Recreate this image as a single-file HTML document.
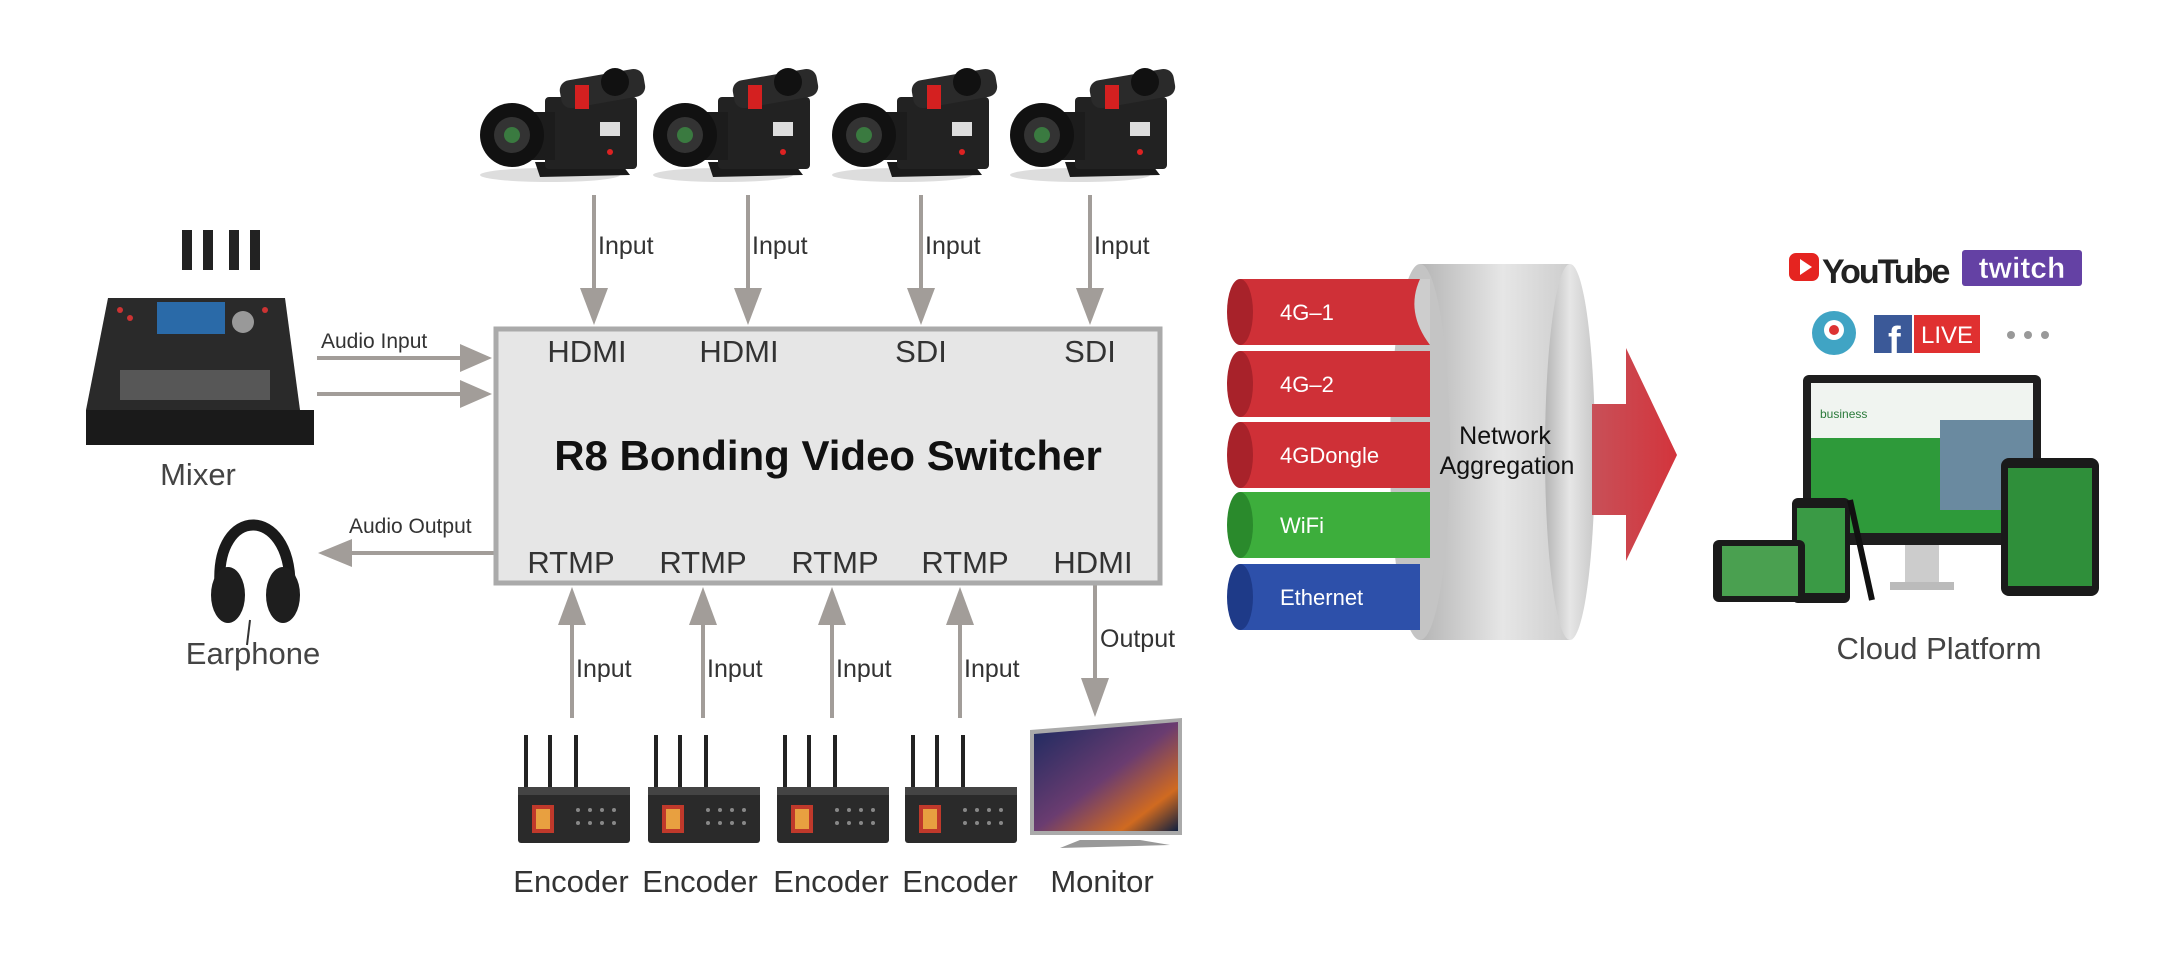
<!DOCTYPE html>
<html><head><meta charset="utf-8"><style>
html,body{margin:0;padding:0;background:#fff;}
svg{display:block;font-family:"Liberation Sans",Arial,sans-serif;}
</style></head><body>
<svg width="2171" height="957" viewBox="0 0 2171 957" xmlns="http://www.w3.org/2000/svg">
<defs>
 <g id="cam">
  <ellipse cx="70" cy="108" rx="70" ry="7" fill="#ddd"/>
  <path d="M55 95 L140 95 L150 108 L60 110 Z" fill="#1a1a1a"/>
  <rect x="65" y="30" width="92" height="72" rx="4" fill="#222"/>
  <rect x="80" y="8" width="85" height="28" rx="10" fill="#2a2a2a" transform="rotate(-10 120 22)"/>
  <rect x="95" y="18" width="14" height="24" fill="#d42020"/>
  <circle cx="135" cy="15" r="14" fill="#111"/>
  <rect x="120" y="55" width="20" height="14" fill="#ddd"/>
  <rect x="30" y="45" width="45" height="48" fill="#1c1c1c"/>
  <circle cx="32" cy="68" r="32" fill="#111"/>
  <circle cx="32" cy="68" r="18" fill="#333"/>
  <circle cx="32" cy="68" r="8" fill="#3a7a40"/>
  <circle cx="130" cy="85" r="3" fill="#d22"/>
 </g>
 <g id="enc">
  <rect x="6" y="0" width="4" height="55" fill="#222"/>
  <rect x="30" y="0" width="4" height="55" fill="#222"/>
  <rect x="56" y="0" width="4" height="55" fill="#222"/>
  <rect x="0" y="52" width="112" height="56" rx="3" fill="#2a2a2a"/>
  <rect x="0" y="52" width="112" height="8" fill="#444"/>
  <rect x="14" y="70" width="22" height="28" fill="#c0392b"/>
  <rect x="18" y="74" width="14" height="20" fill="#e8a040"/>
  <circle cx="60" cy="75" r="2" fill="#888"/><circle cx="72" cy="75" r="2" fill="#888"/><circle cx="84" cy="75" r="2" fill="#888"/><circle cx="96" cy="75" r="2" fill="#888"/>
  <circle cx="60" cy="88" r="2" fill="#888"/><circle cx="72" cy="88" r="2" fill="#888"/><circle cx="84" cy="88" r="2" fill="#888"/><circle cx="96" cy="88" r="2" fill="#888"/>
 </g>
 <linearGradient id="gr" x1="0" x2="1"><stop offset="0" stop-color="#b5b5b5"/><stop offset="0.5" stop-color="#e6e6e6"/><stop offset="1" stop-color="#c8c8c8"/></linearGradient>
 <linearGradient id="ra" x1="0" x2="1"><stop offset="0" stop-color="#c85058"/><stop offset="1" stop-color="#d3343c"/></linearGradient>
 <linearGradient id="tv" x1="0" x2="1" y1="0" y2="1"><stop offset="0" stop-color="#1b2a60"/><stop offset="0.5" stop-color="#6a3c70"/><stop offset="0.8" stop-color="#d06a20"/><stop offset="1" stop-color="#102040"/></linearGradient>
</defs>

<!-- cameras -->
<use href="#cam" x="480" y="67"/>
<use href="#cam" x="653" y="67"/>
<use href="#cam" x="832" y="67"/>
<use href="#cam" x="1010" y="67"/>

<g fill="#a29d99" stroke="none">
 <!-- down arrows -->
 <rect x="592" y="195" width="4" height="100"/><path d="M580 288 L608 288 L594 325 Z"/>
 <rect x="746" y="195" width="4" height="100"/><path d="M734 288 L762 288 L748 325 Z"/>
 <rect x="919" y="195" width="4" height="100"/><path d="M907 288 L935 288 L921 325 Z"/>
 <rect x="1088" y="195" width="4" height="100"/><path d="M1076 288 L1104 288 L1090 325 Z"/>
 <!-- up arrows -->
 <rect x="570" y="618" width="4" height="100"/><path d="M558 625 L586 625 L572 587 Z"/>
 <rect x="701" y="618" width="4" height="100"/><path d="M689 625 L717 625 L703 587 Z"/>
 <rect x="830" y="618" width="4" height="100"/><path d="M818 625 L846 625 L832 587 Z"/>
 <rect x="958" y="618" width="4" height="100"/><path d="M946 625 L974 625 L960 587 Z"/>
 <!-- output -->
 <rect x="1093" y="585" width="4" height="95"/><path d="M1081 678 L1109 678 L1095 717 Z"/>
 <!-- audio in -->
 <rect x="317" y="356" width="150" height="4"/><path d="M460 344 L492 358 L460 372 Z"/>
 <rect x="317" y="392" width="150" height="4"/><path d="M460 380 L492 394 L460 408 Z"/>
 <!-- audio out -->
 <rect x="345" y="551" width="150" height="4"/><path d="M352 539 L318 553 L352 567 Z"/>
</g>

<g fill="#333" font-size="25">
 <text x="598" y="254">Input</text><text x="752" y="254">Input</text>
 <text x="925" y="254">Input</text><text x="1094" y="254">Input</text>
 <text x="576" y="677">Input</text><text x="707" y="677">Input</text>
 <text x="836" y="677">Input</text><text x="964" y="677">Input</text>
 <text x="1100" y="647">Output</text>
 <text x="321" y="348" font-size="21">Audio Input</text>
 <text x="349" y="533" font-size="21">Audio Output</text>
</g>

<!-- main box -->
<rect x="496" y="329" width="664" height="254" fill="#e6e6e6" stroke="#aaa" stroke-width="5"/>
<g fill="#333" font-size="31" text-anchor="middle">
 <text x="587" y="362">HDMI</text><text x="739" y="362">HDMI</text>
 <text x="921" y="362">SDI</text><text x="1090" y="362">SDI</text>
 <text x="571" y="573">RTMP</text><text x="703" y="573">RTMP</text><text x="835" y="573">RTMP</text><text x="965" y="573">RTMP</text><text x="1093" y="573">HDMI</text>
</g>
<text x="828" y="470" text-anchor="middle" font-size="42" font-weight="bold" fill="#111">R8 Bonding Video Switcher</text>

<!-- mixer -->
<g>
 <rect x="182" y="230" width="10" height="40" fill="#222"/><rect x="203" y="230" width="10" height="40" fill="#222"/>
 <rect x="229" y="230" width="10" height="40" fill="#222"/><rect x="250" y="230" width="10" height="40" fill="#222"/>
 <path d="M108 298 L285 298 L300 410 L86 410 Z" fill="#2a2a2a"/>
 <rect x="86" y="410" width="228" height="35" fill="#1a1a1a"/>
 <rect x="157" y="302" width="68" height="32" fill="#2a6aa8"/>
 <circle cx="243" cy="322" r="11" fill="#999"/>
 <g fill="#777"><rect x="120" y="370" width="150" height="30" opacity="0.6"/></g>
 <g fill="#c33"><circle cx="120" cy="310" r="3"/><circle cx="130" cy="318" r="3"/><circle cx="265" cy="310" r="3"/></g>
</g>
<text x="198" y="485" text-anchor="middle" font-size="31" fill="#444">Mixer</text>

<!-- earphone -->
<g>
 <path d="M220 585 C215 505 290 505 290 585" fill="none" stroke="#1a1a1a" stroke-width="11"/>
 <ellipse cx="228" cy="595" rx="17" ry="28" fill="#1e1e1e"/>
 <ellipse cx="283" cy="595" rx="17" ry="28" fill="#1e1e1e"/>
 <line x1="250" y1="620" x2="247" y2="645" stroke="#333" stroke-width="2"/>
</g>
<text x="253" y="664" text-anchor="middle" font-size="31" fill="#444">Earphone</text>

<!-- encoders -->
<use href="#enc" x="518" y="735"/>
<use href="#enc" x="648" y="735"/>
<use href="#enc" x="777" y="735"/>
<use href="#enc" x="905" y="735"/>
<!-- monitor -->
<path d="M1030 730 L1182 718 L1182 835 L1030 835 Z" fill="#aaa"/>
<path d="M1034 734 L1178 722 L1178 831 L1034 831 Z" fill="url(#tv)"/>
<path d="M1080 840 L1140 840 L1170 845 L1060 848 Z" fill="#999"/>
<g font-size="31" fill="#333" text-anchor="middle">
 <text x="571" y="892">Encoder</text><text x="700" y="892">Encoder</text><text x="831" y="892">Encoder</text><text x="960" y="892">Encoder</text><text x="1102" y="892">Monitor</text>
</g>

<!-- network cylinders -->
<path d="M1420 264 L1570 264 Q1600 452 1570 640 L1420 640 Z" fill="url(#gr)"/>
<ellipse cx="1420" cy="452" rx="30" ry="188" fill="#c4c4c4"/>
<ellipse cx="1570" cy="452" rx="25" ry="188" fill="url(#gr)"/>
<g>
 <rect x="1240" y="279" width="190" height="66" fill="#cf3037"/><ellipse cx="1240" cy="312" rx="13" ry="33" fill="#a8222a"/>
 <rect x="1240" y="351" width="190" height="66" fill="#cf3037"/><ellipse cx="1240" cy="384" rx="13" ry="33" fill="#a8222a"/>
 <rect x="1240" y="422" width="190" height="66" fill="#cf3037"/><ellipse cx="1240" cy="455" rx="13" ry="33" fill="#a8222a"/>
 <rect x="1240" y="492" width="190" height="66" fill="#3dae3c"/><ellipse cx="1240" cy="525" rx="13" ry="33" fill="#2a8a2c"/>
 <rect x="1240" y="564" width="180" height="66" fill="#2d50aa"/><ellipse cx="1240" cy="597" rx="13" ry="33" fill="#1e3a88"/>
 <path d="M1420 279 Q1405 312 1430 345 L1430 279 Z" fill="#cdcdcd"/>
</g>
<g fill="#fff" font-size="22">
 <text x="1280" y="320">4G–1</text><text x="1280" y="392">4G–2</text><text x="1280" y="463">4GDongle</text>
 <text x="1280" y="533">WiFi</text><text x="1280" y="605">Ethernet</text>
</g>
<g fill="#111" font-size="25" text-anchor="middle">
 <text x="1505" y="444">Network</text><text x="1507" y="474">Aggregation</text>
</g>
<!-- big red arrow -->
<path d="M1592 404 L1626 404 L1626 348 L1677 455 L1626 561 L1626 515 L1592 515 Z" fill="url(#ra)"/>

<!-- cloud logos -->
<rect x="1789" y="253" width="30" height="28" rx="7" fill="#e52420"/>
<path d="M1800 259 L1812 267 L1800 275 Z" fill="#fff"/>
<text x="1822" y="283" font-size="34" font-weight="bold" fill="#222" letter-spacing="-2" transform="scale(1 1)">YouTube</text>
<rect x="1962" y="250" width="120" height="36" rx="3" fill="#6441a4"/>
<text x="2022" y="278" text-anchor="middle" font-size="30" font-weight="bold" fill="#fff" stroke="#6441a4" stroke-width="0.5">twitch</text>
<circle cx="1834" cy="333" r="22" fill="#40a4c4"/><circle cx="1834" cy="330" r="10" fill="#fff"/><circle cx="1834" cy="330" r="5" fill="#d33"/>
<rect x="1874" y="315" width="38" height="38" fill="#3b5998"/>
<text x="1888" y="353" font-size="38" font-weight="bold" fill="#fff">f</text>
<rect x="1914" y="315" width="66" height="38" fill="#e03030"/>
<text x="1947" y="343" text-anchor="middle" font-size="24" fill="#fff">LIVE</text>
<g fill="#999"><circle cx="2011" cy="335" r="4"/><circle cx="2028" cy="335" r="4"/><circle cx="2045" cy="335" r="4"/></g>

<!-- devices -->
<rect x="1803" y="375" width="238" height="170" rx="6" fill="#1e1e1e"/>
<rect x="1811" y="383" width="222" height="150" fill="#2e9a3a"/>
<rect x="1811" y="383" width="222" height="55" fill="#f0f4f0"/>
<rect x="1940" y="420" width="93" height="90" fill="#6a8aa0"/>
<text x="1820" y="418" font-size="12" fill="#2a7a3a">business</text>
<rect x="1905" y="545" width="34" height="40" fill="#ccc"/><rect x="1890" y="582" width="64" height="8" fill="#bbb"/>
<rect x="1792" y="498" width="58" height="105" rx="6" fill="#1a1a1a"/><rect x="1797" y="508" width="48" height="85" fill="#3a9a45"/>
<rect x="1713" y="540" width="92" height="62" rx="6" fill="#1a1a1a"/><rect x="1722" y="546" width="76" height="50" fill="#4aa050"/>
<line x1="1850" y1="500" x2="1872" y2="600" stroke="#111" stroke-width="6"/>
<rect x="2001" y="458" width="98" height="138" rx="8" fill="#1a1a1a"/><rect x="2008" y="468" width="84" height="118" fill="#2f8f3a"/>
<text x="1939" y="659" text-anchor="middle" font-size="31" fill="#444">Cloud Platform</text>
</svg>
</body></html>
